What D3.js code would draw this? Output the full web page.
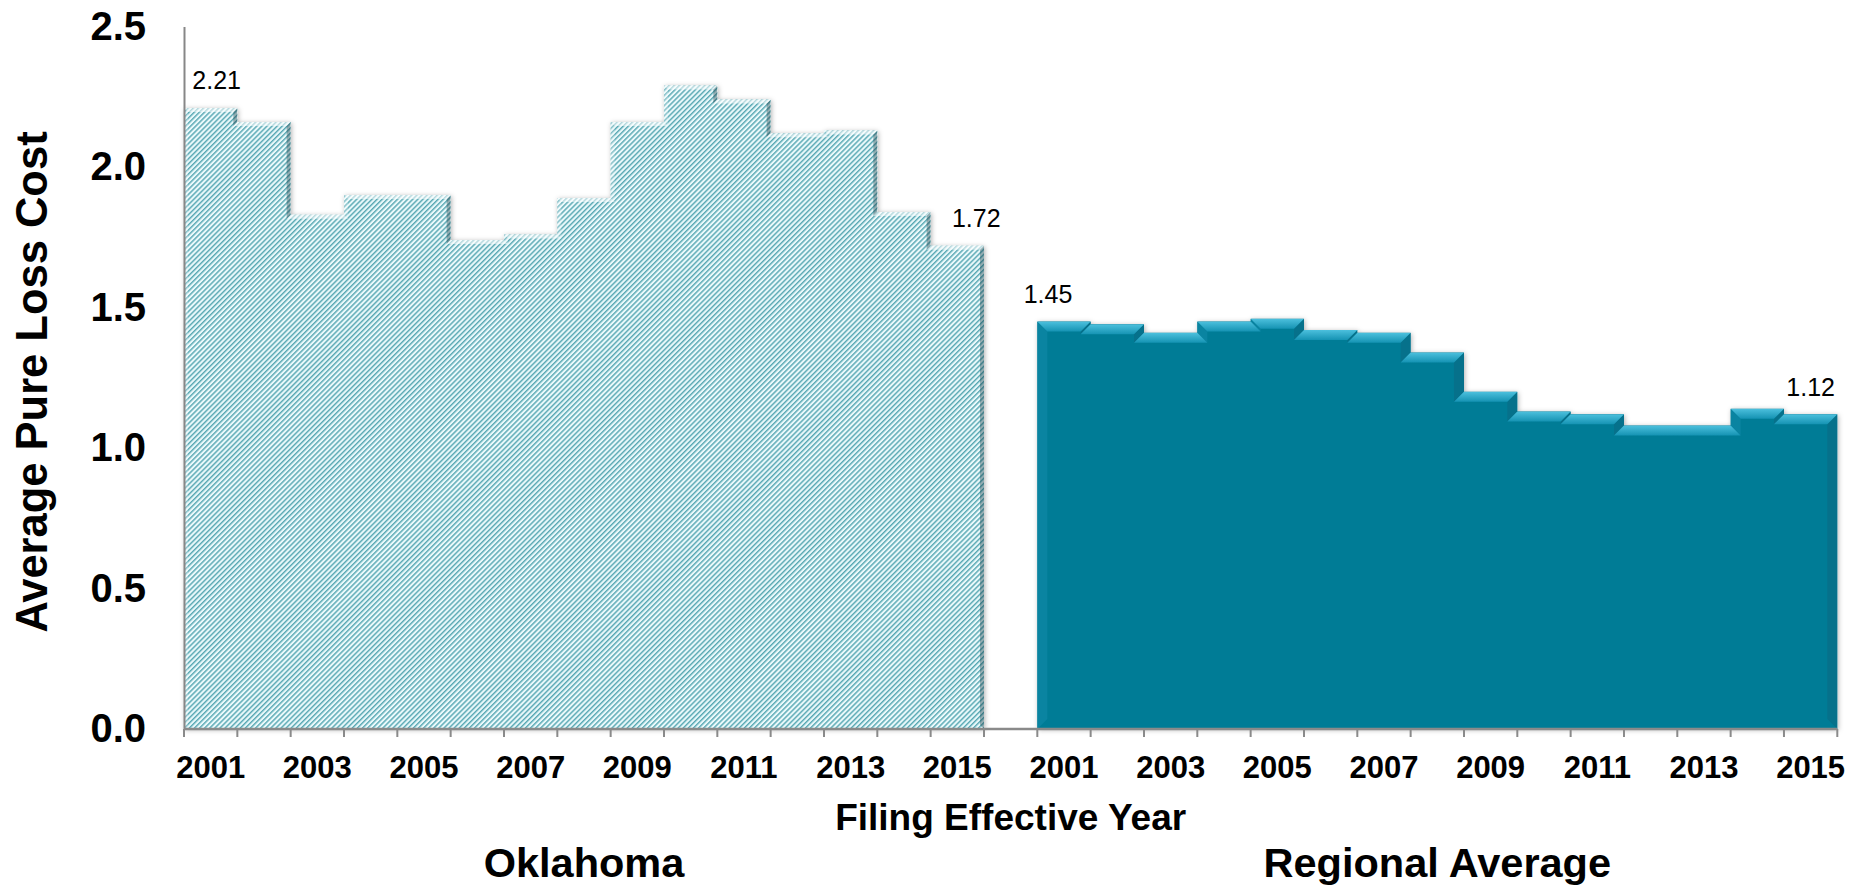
<!DOCTYPE html>
<html>
<head>
<meta charset="utf-8">
<script src="https://cdn.jsdelivr.net/npm/d3@7"></script>
<style>
  body { margin: 0; background: #fff; }
  text { font-family: "Liberation Sans", Arial, Helvetica, sans-serif; fill: #000; }
</style>
</head>
<body>
<script>
// Filing effective years shown for each group
const years = ["2001", "2002", "2003", "2004", "2005", "2006", "2007", "2008",
               "2009", "2010", "2011", "2012", "2013", "2014", "2015"];
// Average pure loss cost by year
const oklahoma = [2.21, 2.16, 1.83, 1.90, 1.90, 1.74, 1.76, 1.89, 2.16, 2.29, 2.24, 2.12, 2.13, 1.84, 1.72];
const regional = [1.45, 1.44, 1.41, 1.45, 1.46, 1.42, 1.41, 1.34, 1.20, 1.13, 1.12, 1.08, 1.08, 1.14, 1.12];
const groups = ["Oklahoma", "Regional Average"];
const yTickValues = [0, 0.5, 1.0, 1.5, 2.0, 2.5];
const yTitle = "Average Pure Loss Cost";
const xTitle = "Filing Effective Year";

const W = 1867, H = 888;
const plotLeft = 184, plotRight = 1837.3, plotTop = 26.5, plotBottom = 729;

const svg = d3.select("body").append("svg").attr("width", W).attr("height", H);
const defs = svg.append("defs");

// Diagonal hatch fill
const hatch = defs.append("pattern")
  .attr("id", "hatch").attr("patternUnits", "userSpaceOnUse")
  .attr("width", 3.6).attr("height", 3.6)
  .attr("patternTransform", "rotate(45)");
hatch.append("rect").attr("width", 3.6).attr("height", 3.6).attr("fill", "#eaf9fb");
hatch.append("rect").attr("width", 1.45).attr("height", 3.6).attr("fill", "#58a8b3");

// Light bevel along the top edges of the solid area
const topGrad = defs.append("linearGradient").attr("id", "bevelTop")
  .attr("x1", 0).attr("y1", 0).attr("x2", 0).attr("y2", 1);
topGrad.append("stop").attr("offset", "0%").attr("stop-color", "#4cc0dd");
topGrad.append("stop").attr("offset", "100%").attr("stop-color", "#1593b3");

// Soft shadow around each area
const shadow = defs.append("filter").attr("id", "shadow")
  .attr("x", "-5%").attr("y", "-5%").attr("width", "110%").attr("height", "110%");
shadow.append("feDropShadow").attr("dx", 1).attr("dy", 1)
  .attr("stdDeviation", 2.5).attr("flood-color", "#000").attr("flood-opacity", 0.3);

const keysOK = years.map(d => "OK" + d);
const keysRA = years.map(d => "RA" + d);

const x = d3.scaleBand()
  .domain([...keysOK, "gap", ...keysRA])
  .range([plotLeft, plotRight])
  .padding(0);
const y = d3.scaleLinear().domain([0, 2.5]).range([plotBottom, plotTop]);
const bw = x.bandwidth();

const series = [
  { name: groups[0], keys: keysOK, values: oklahoma, fill: "url(#hatch)", bevel: 4,
    edge: { top: "rgba(255,255,255,0.55)", leftFacing: "rgba(255,255,255,0.25)", rightFacing: "rgba(20,60,70,0.4)" },
    nudge: [6, 19] },
  { name: groups[1], keys: keysRA, values: regional, fill: "#067b96", bevel: 10,
    edge: { top: "url(#bevelTop)", leftFacing: "#0a84a1", rightFacing: "#06718b" },
    nudge: [-16, 0] }
];

// Step outline of an area, clockwise from the bottom-left corner
function outline(s) {
  const pts = [[x(s.keys[0]), y(0)]];
  s.values.forEach((v, i) => {
    const x0 = x(s.keys[i]);
    if (i === 0) pts.push([x0, y(v)]);
    else if (v !== s.values[i - 1]) { pts.push([x0, y(s.values[i - 1])]); pts.push([x0, y(v)]); }
  });
  const xEnd = x(s.keys[s.keys.length - 1]) + bw;
  const last = s.values[s.values.length - 1];
  pts.push([xEnd, y(last)]);
  pts.push([xEnd, y(0)]);
  return pts;
}

// Mitred bevel strips along every edge except the base
function bevelQuads(pts, b) {
  const n = pts.length;
  const normals = pts.map((p, i) => {
    const q = pts[(i + 1) % n];
    const dx = Math.sign(q[0] - p[0]), dy = Math.sign(q[1] - p[1]);
    return [-dy, dx];
  });
  const inner = pts.map((p, i) => {
    const a = normals[(i - 1 + n) % n], c = normals[i];
    return [p[0] + b * (a[0] + c[0]), p[1] + b * (a[1] + c[1])];
  });
  return pts.map((p, i) => {
    const j = (i + 1) % n;
    const nm = normals[i];
    const kind = nm[1] === 1 ? "top" : nm[1] === -1 ? "bottom" : nm[0] === 1 ? "leftFacing" : "rightFacing";
    return { kind, poly: [p, pts[j], inner[j], inner[i]] };
  }).filter(q => q.kind !== "bottom");
}

const area = d3.area()
  .curve(d3.curveStepAfter)
  .x(d => d[0]).y0(y(0)).y1(d => d[1]);

const plot = svg.append("g");
series.forEach(s => {
  const pts = s.keys.map((k, i) => [x(k), y(s.values[i])]);
  pts.push([x(s.keys[s.keys.length - 1]) + bw, y(s.values[s.values.length - 1])]);
  const g = plot.append("g");
  const clipId = "clip-" + s.keys[0];
  defs.append("clipPath").attr("id", clipId).append("path").attr("d", area(pts));
  g.append("path").attr("d", area(pts)).attr("fill", s.fill).attr("filter", "url(#shadow)");
  const quads = bevelQuads(outline(s), s.bevel);
  const order = { leftFacing: 0, rightFacing: 1, top: 2 };
  quads.sort((a, b) => order[a.kind] - order[b.kind]);
  g.append("g").attr("clip-path", `url(#${clipId})`)
    .selectAll("path").data(quads).join("path")
    .attr("d", q => "M" + q.poly.map(p => p.join(",")).join("L") + "Z")
    .attr("fill", q => s.edge[q.kind]);
});

// Y axis
const yAxis = svg.append("g").attr("transform", `translate(${plotLeft},0)`)
  .call(d3.axisLeft(y).tickValues(yTickValues).tickFormat(d3.format(".1f")).tickSize(0).tickPadding(38));
yAxis.select(".domain").attr("stroke", "#878787").attr("stroke-width", 2);
yAxis.selectAll("text")
  .style("font-family", "'Liberation Sans', Arial, sans-serif")
  .style("font-size", "40px").style("font-weight", "bold").attr("fill", "#000");

// X axis line and boundary ticks
const xAxis = svg.append("g");
xAxis.append("line").attr("x1", plotLeft).attr("x2", plotRight).attr("y1", plotBottom).attr("y2", plotBottom)
  .attr("stroke", "#8a8a8a").attr("stroke-width", 2.5);
const boundaries = x.domain().map(k => x(k)).concat([plotRight]);
xAxis.selectAll("line.tick").data(boundaries).join("line").attr("class", "tick")
  .attr("x1", d => d).attr("x2", d => d).attr("y1", plotBottom).attr("y2", plotBottom + 8)
  .attr("stroke", "#8a8a8a").attr("stroke-width", 2);

const yearLabels = series.flatMap(s => s.keys.map((k, i) => ({ k, label: years[i], i })))
  .filter(d => d.i % 2 === 0);
xAxis.selectAll("text.year").data(yearLabels).join("text").attr("class", "year")
  .attr("x", d => x(d.k) + bw / 2).attr("y", 778)
  .attr("text-anchor", "middle")
  .style("font-size", "31px").style("font-weight", "bold")
  .text(d => d.label);

// Data labels at both ends of each group
const fmt = d3.format(".2f");
series.forEach(s => {
  const ends = [0, s.values.length - 1];
  svg.append("g").selectAll("text").data(ends).join("text")
    .attr("x", (i, j) => x(s.keys[i]) + bw / 2 + s.nudge[j])
    .attr("y", i => y(s.values[i]) - 18.5)
    .attr("text-anchor", "middle")
    .style("font-size", "25px")
    .text(i => fmt(s.values[i]));
});

// Axis titles and group names
svg.append("text")
  .attr("transform", `translate(47,382) rotate(-90)`)
  .attr("text-anchor", "middle")
  .style("font-size", "43.5px").style("font-weight", "bold")
  .text(yTitle);

svg.append("text")
  .attr("x", (plotLeft + plotRight) / 2).attr("y", 830)
  .attr("text-anchor", "middle")
  .style("font-size", "37px").style("font-weight", "bold")
  .text(xTitle);

series.forEach(s => {
  const cx = (x(s.keys[0]) + x(s.keys[s.keys.length - 1]) + bw) / 2;
  svg.append("text")
    .attr("x", cx).attr("y", 877)
    .attr("text-anchor", "middle")
    .style("font-size", "41.5px").style("font-weight", "bold")
    .text(s.name);
});
</script>
</body>
</html>
